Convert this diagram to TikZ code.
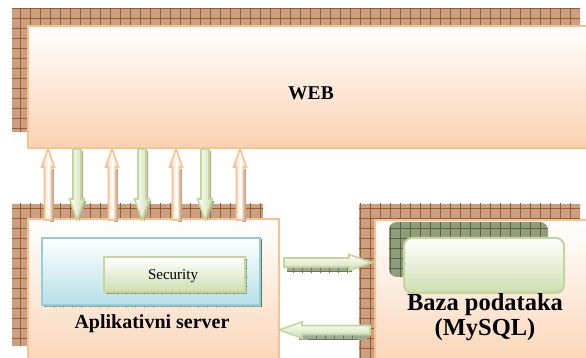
\documentclass[tikz,border=0pt]{standalone}
\usepackage{fontspec}
\setmainfont{Liberation Serif}
\newfontfamily\labelfont{Liberation Serif}
\definecolor{peachline}{RGB}{250,192,143}
\definecolor{peachfill}{RGB}{250,210,178}
\definecolor{hatchbrown}{RGB}{203,160,130}
\definecolor{hatchbrownline}{RGB}{155,92,45}
\definecolor{blueline}{RGB}{146,205,220}
\definecolor{bluefill}{RGB}{183,222,232}
\definecolor{greenline}{RGB}{195,214,155}
\definecolor{greenfill}{RGB}{205,222,175}
\definecolor{hatchgrey}{RGB}{160,168,150}
\definecolor{hatchgreyline}{RGB}{105,115,95}
\definecolor{hatchgreen}{RGB}{143,157,122}
\definecolor{hatchgreenline}{RGB}{85,97,72}
\definecolor{arrowshadow}{RGB}{185,170,150}

\tikzset{
  % textured drop shadows
  brownhatch/.style={fill=hatchbrown, path picture={
      \draw[hatchbrownline, line width=0.8pt, step=10pt]
        ([shift={(-10pt,-10pt)}]path picture bounding box.south west) grid
        ([shift={(10pt,10pt)}]path picture bounding box.north east);}},
  greyhatch/.style={fill=hatchgrey, path picture={
      \draw[hatchgreyline, line width=0.6pt, step=9pt]
        ([shift={(-9pt,-9pt)}]path picture bounding box.south west) grid
        ([shift={(9pt,9pt)}]path picture bounding box.north east);}},
  greenhatch/.style={fill=hatchgreen, path picture={
      \draw[hatchgreenline, line width=0.7pt, step=10pt]
        ([shift={(-10pt,-10pt)}]path picture bounding box.south west) grid
        ([shift={(10pt,10pt)}]path picture bounding box.north east);}},
  % boxes
  panel/.style={draw=peachline, line width=2pt, top color=white, bottom color=peachfill,
      anchor=north west, inner sep=0pt},
  layer/.style={draw=blueline, line width=2pt, top color=white, bottom color=bluefill,
      anchor=north west, inner sep=0pt},
  module/.style={draw=greenline, line width=2pt, top color=white, bottom color=greenfill,
      anchor=north west, inner sep=0pt},
  textlabel/.style={font=\labelfont\bfseries\fontsize{#1}{#1}\selectfont},
  % block arrows
  orangearrow/.style={draw=peachline, line width=1.6pt, left color=peachfill, right color=peachfill,
      middle color=white},
  greenarrow/.style={draw=greenline, line width=1.6pt, left color=white, right color=greenfill},
  harrowfill/.style={draw=greenline, line width=1.6pt, top color=white, bottom color=greenfill},
  arrowshade/.style={fill=arrowshadow},
  % up arrow: tip at the pic origin, 71pt long
  pics/uparr/.style={code={
      \path[arrowshade] (1.5,-20) -- (5.5,-20) -- (5.5,-73) -- (1.5,-73) -- cycle;
      \path[orangearrow] (-3.5,-71) -- (-3.5,-18) -- (-6.5,-18) -- (0,0)
        -- (6.5,-18) -- (3.5,-18) -- (3.5,-71) -- cycle;}},
  % down arrow: tail at the pic origin, 71pt long
  pics/downarr/.style={code={
      \path[arrowshade] (2,-2) -- (6,-2) -- (6,-52) -- (9.5,-52) -- (2,-73) -- cycle;
      \path[greenarrow] (-4,0) -- (4,0) -- (4,-50) -- (7.5,-50) -- (0,-71)
        -- (-7.5,-50) -- (-4,-50) -- cycle;}},
  % horizontal arrow pointing to +x, length #1
  pics/sidearr/.style={code={
      \path[greyhatch] (3,-5.5) rectangle (#1-20,-10);
      \path[harrowfill] (0,-4.5) -- (#1-23,-4.5) -- (#1-23,-8) -- (#1,0)
        -- (#1-23,8) -- (#1-23,4.5) -- (0,4.5) -- cycle;}},
}

\begin{document}
\begin{tikzpicture}[x=1pt,y=1pt]
  \clip (0,0) rectangle (586,358);

  % ---- WEB ----
  \path[brownhatch] (12,226) rectangle (580,349);
  \node[panel, minimum width=570pt, minimum height=122pt] (web) at (27,333) {};
  \node[textlabel=19.5] (webtext) at (311,265) {WEB};

  % ---- application server ----
  \path[brownhatch] (12,12) rectangle (263,154);
  \node[panel, minimum width=251pt, minimum height=157pt] (app) at (27,140) {};
  \path[greyhatch] (44,51) rectangle (262,118);
  \node[layer, minimum width=218pt, minimum height=67pt] (layer) at (41,121) {};
  \path[greyhatch] (106,64) rectangle (247,99);
  \node[module, minimum width=141pt, minimum height=35pt] (sec) at (103,102) {};
  \node[font=\labelfont\fontsize{15}{15}\selectfont] (sectext) at (173,82) {Security};
  \node[textlabel=20] (apptext) at (152,34) {Aplikativni server};

  % ---- database ----
  \path[brownhatch] (359,-17) rectangle (580,154);
  \node[panel, minimum width=226pt, minimum height=156pt] (db) at (374,139) {};
  \path[greenhatch, rounded corners=8pt] (389,81) rectangle (548,136);
  \node[module, rounded corners=8pt, minimum width=160pt, minimum height=55pt] (store) at (403,121) {};
  \node[textlabel=24.5] (dbtext) at (485,53) {Baza podataka};
  \node[textlabel=24.5] (dbtext2) at (485,28) {(MySQL)};

  % ---- web <-> application server ----
  \foreach \x in {48,112,176,240}
    \pic at (web.south -| \x,0) {uparr};
  \foreach \x in {77,142,205}
    \pic at (web.south -| \x,0) {downarr};

  % ---- application server <-> database ----
  \pic at ([xshift=4pt]app.east |- 0,95.5) {sidearr=88};
  \pic[xscale=-1] at ([xshift=-4pt]db.west |- 0,28) {sidearr=91};
\end{tikzpicture}
\end{document}
